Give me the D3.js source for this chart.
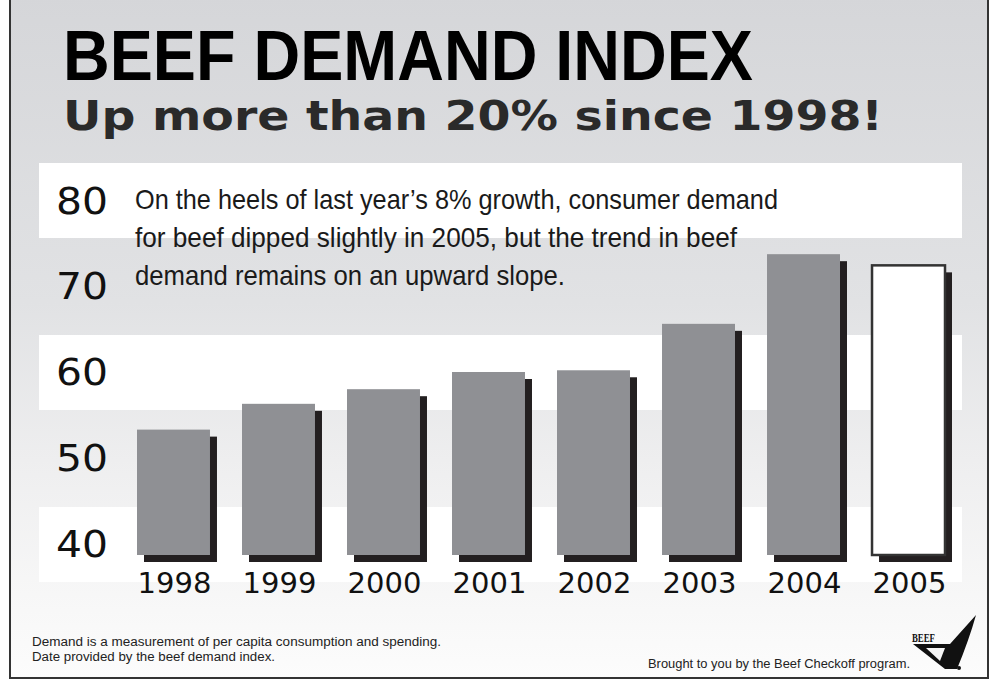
<!DOCTYPE html>
<html>
<head>
<meta charset="utf-8">
<script src="https://cdn.jsdelivr.net/npm/d3@7"></script>
<style>
  body { margin: 0; background: #fff; }
  svg { display: block; }
</style>
</head>
<body>
<svg id="chart"></svg>
<script>
/* globals d3 */

// Data
var years = ['1998', '1999', '2000', '2001', '2002', '2003', '2004', '2005']
var demand = [53.3, 56.3, 58.0, 60.0, 60.2, 65.6, 73.7, 72.4]
var ticks = [40, 50, 60, 70, 80]
var bandTicks = [40, 60, 80]
var estimateYear = '2005'

var title = 'BEEF DEMAND INDEX'
var subtitle = 'Up more than 20% since 1998!'
var note = [
  'On the heels of last year\u2019s 8% growth, consumer demand',
  'for beef dipped slightly in 2005, but the trend in beef',
  'demand remains on an upward slope.'
]
var noteWidths = [643, 602, 430]
var footer = [
  'Demand is a measurement of per capita consumption and spending.',
  'Date provided by the beef demand index.'
]
var credit = 'Brought to you by the Beef Checkoff program.'

var width = 992,
    height = 682

var svg = d3.select('#chart')
  .attr('width', width)
  .attr('height', height)

// Background gradient
var grad = svg.append('defs').append('linearGradient')
  .attr('id', 'bg')
  .attr('x1', 0).attr('y1', 0).attr('x2', 0).attr('y2', 1)
grad.selectAll('stop')
  .data([[0, '#d5d6d9'], [0.45, '#e1e2e4'], [0.68, '#eeeeef'], [0.9, '#f8f8f8'], [1, '#fcfcfc']])
  .enter().append('stop')
  .attr('offset', function (d) { return d[0] })
  .attr('stop-color', function (d) { return d[1] })

svg.append('rect')
  .attr('x', 10).attr('y', -5)
  .attr('width', 978).attr('height', 683)
  .attr('fill', 'url(#bg)')
  .attr('stroke', '#333')
  .attr('stroke-width', 2)

// Scales
var x = d3.scaleBand()
  .domain(years)
  .range([137, 945])
  .paddingInner(0.305)
  .paddingOuter(0)

var y = d3.scaleLinear()
  .domain([38.72, 80])
  .range([555, 200])

// White bands behind ticks 80, 60, 40
svg.append('g').selectAll('rect')
  .data(bandTicks)
  .enter().append('rect')
  .attr('x', 39)
  .attr('width', 923)
  .attr('y', function (d) { return y(d) - 37 })
  .attr('height', 75)
  .attr('fill', '#fff')

// Y labels
svg.append('g').selectAll('text')
  .data(ticks)
  .enter().append('text')
  .attr('x', 108)
  .attr('y', function (d) { return y(d) + 13.5 })
  .attr('text-anchor', 'end')
  .attr('font-family', 'DejaVu Sans')
  .attr('font-size', 37)
  .attr('textLength', 52)
  .attr('lengthAdjust', 'spacingAndGlyphs')
  .attr('fill', '#111')
  .text(function (d) { return d })

// Note text
svg.append('g').selectAll('text')
  .data(note)
  .enter().append('text')
  .attr('x', 135)
  .attr('y', function (d, i) { return 209 + i * 38 })
  .attr('font-family', 'Liberation Sans')
  .attr('font-size', 28)
  .attr('textLength', function (d, i) { return noteWidths[i] })
  .attr('lengthAdjust', 'spacingAndGlyphs')
  .attr('fill', '#1a1a1a')
  .text(function (d) { return d })

// Bars with drop shadows
var bars = svg.append('g').selectAll('g')
  .data(years.map(function (yr, i) { return { year: yr, value: demand[i] } }))
  .enter().append('g')

bars.append('rect')
  .attr('x', function (d) { return x(d.year) + 7 })
  .attr('y', function (d) { return y(d.value) + 7 })
  .attr('width', x.bandwidth())
  .attr('height', function (d) { return y(38.72) - y(d.value) })
  .attr('fill', '#231f20')

bars.append('rect')
  .attr('x', function (d) { return x(d.year) })
  .attr('y', function (d) { return y(d.value) })
  .attr('width', x.bandwidth())
  .attr('height', function (d) { return y(38.72) - y(d.value) })
  .attr('fill', function (d) { return d.year === estimateYear ? '#fff' : '#8f9094' })
  .attr('stroke', function (d) { return d.year === estimateYear ? '#333' : 'none' })
  .attr('stroke-width', 2.5)

// Year labels
svg.append('g').selectAll('text')
  .data(years)
  .enter().append('text')
  .attr('x', function (d) { return x(d) + x.bandwidth() / 2 + 1 })
  .attr('y', 593)
  .attr('text-anchor', 'middle')
  .attr('font-family', 'DejaVu Sans')
  .attr('font-size', 29)
  .attr('fill', '#111')
  .text(function (d) { return d })

// Titles
svg.append('text')
  .attr('x', 63).attr('y', 80)
  .attr('font-family', 'Liberation Sans')
  .attr('font-weight', 'bold')
  .attr('font-size', 70)
  .attr('textLength', 690)
  .attr('lengthAdjust', 'spacingAndGlyphs')
  .attr('fill', '#000')
  .text(title)

svg.append('text')
  .attr('x', 63).attr('y', 130)
  .attr('font-family', 'DejaVu Sans')
  .attr('font-weight', 'bold')
  .attr('font-size', 40)
  .attr('textLength', 820)
  .attr('lengthAdjust', 'spacingAndGlyphs')
  .attr('fill', '#2a2a2a')
  .text(subtitle)

// Footer
svg.append('g').selectAll('text')
  .data(footer)
  .enter().append('text')
  .attr('x', 32)
  .attr('y', function (d, i) { return 646 + i * 15 })
  .attr('font-family', 'Liberation Sans')
  .attr('font-size', 12.5)
  .attr('textLength', function (d, i) { return i === 0 ? 409 : 243 })
  .attr('lengthAdjust', 'spacingAndGlyphs')
  .attr('fill', '#222')
  .text(function (d) { return d })

svg.append('text')
  .attr('x', 910).attr('y', 668)
  .attr('text-anchor', 'end')
  .attr('font-family', 'Liberation Sans')
  .attr('font-size', 12.5)
  .attr('textLength', 262)
  .attr('lengthAdjust', 'spacingAndGlyphs')
  .attr('fill', '#222')
  .text(credit)

// Beef checkoff logo
var logo = svg.append('g')
logo.append('text')
  .attr('x', 912).attr('y', 642)
  .attr('font-family', 'Liberation Serif')
  .attr('font-weight', 'bold')
  .attr('font-size', 12)
  .attr('textLength', 23)
  .attr('lengthAdjust', 'spacingAndGlyphs')
  .attr('fill', '#111')
  .text('BEEF')
logo.append('path')
  .attr('d', 'M913,644 L950,644 L976,615 Q969,640 957,669 L945,669 Z')
  .attr('fill', '#111')
logo.append('path')
  .attr('d', 'M926,648 L945,648 L940,661 Z')
  .attr('fill', '#f6f6f6')
logo.append('circle')
  .attr('cx', 959).attr('cy', 668).attr('r', 2)
  .attr('fill', '#111')
</script>
</body>
</html>
